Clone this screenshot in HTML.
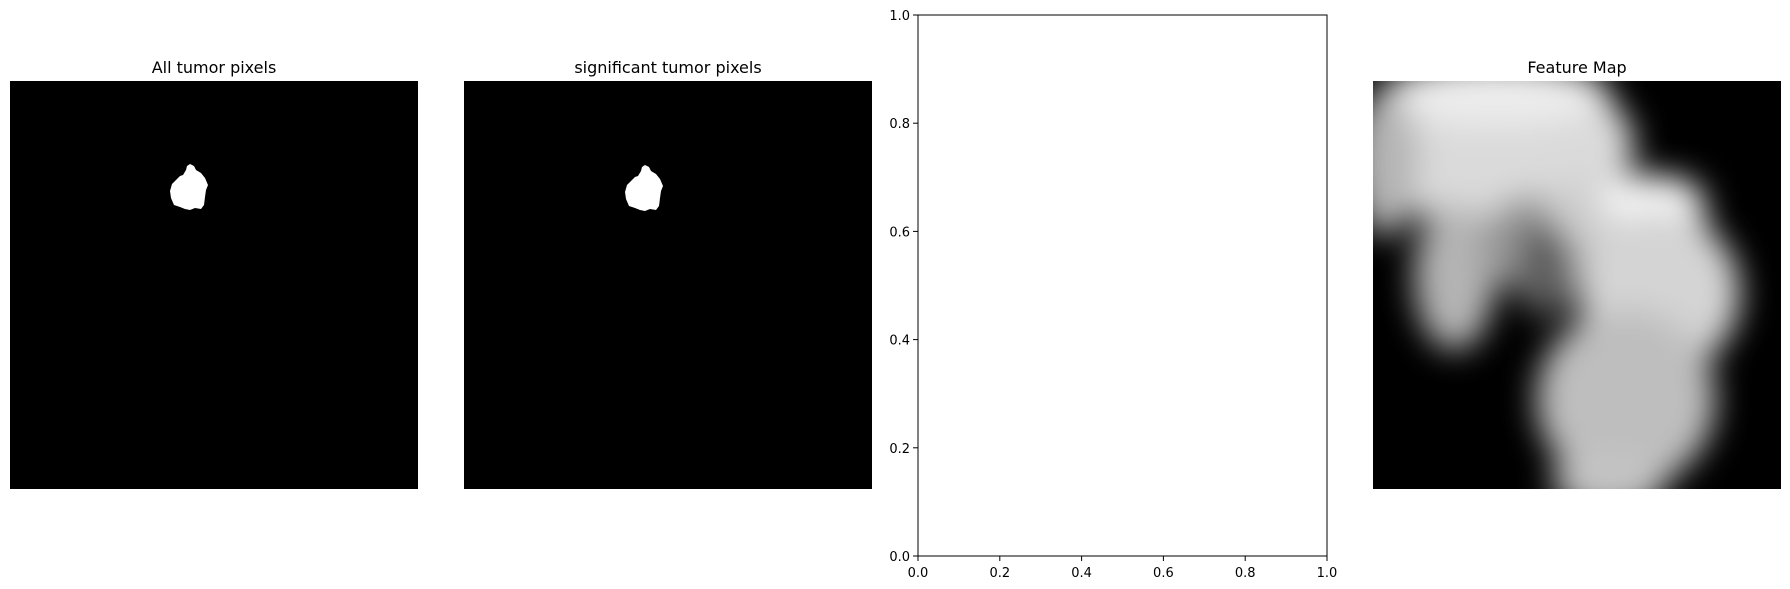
<!DOCTYPE html>
<html><head><meta charset="utf-8"><style>
body{margin:0;background:#fff;width:1790px;height:589px;overflow:hidden;font-family:"DejaVu Sans","Liberation Sans",sans-serif}
svg{position:absolute;left:0;top:0}
</style></head><body>
<svg width="1790" height="589">
<defs>
<filter id="bl" x="-50%" y="-50%" width="200%" height="200%"><feGaussianBlur stdDeviation="16"/></filter>
<clipPath id="c4"><rect x="1373" y="81" width="408" height="408"/></clipPath>
</defs>
<text x="214" y="73" font-size="16" text-anchor="middle">All tumor pixels</text>
<rect x="10" y="81" width="408" height="408" fill="#000"/>
<g id="blob1"></g>
<text x="668" y="73" font-size="16" text-anchor="middle">significant tumor pixels</text>
<rect x="464" y="81" width="408" height="408" fill="#000"/>
<g id="blob2"></g>
<g id="ax"></g>
<text x="1577" y="73" font-size="16" text-anchor="middle">Feature Map</text>
<g clip-path="url(#c4)">
<rect x="1373" y="81" width="408" height="408" fill="#000"/>
<g id="fm" filter="url(#bl)"></g>
</g>
</svg>
<script>
const ticks=[0,0.2,0.4,0.6,0.8,1.0];
const tickLabels=["0.0","0.2","0.4","0.6","0.8","1.0"];
const blobPts=[[190,164],[194,166],[196,170],[201,173],[205,178],[208,185],[206,190],[205,197],[204,205],[201,209],[195,208],[190,210],[185,209],[180,207],[174,205],[171,198],[170,191],[172,184],[176,180],[180,176],[183,175],[186,170],[187,166]];
// feature-map blobs: [cx, cy, rx, ry, gray] in fractions of panel
const fmBlobs=[[0.3,0.16,0.34,0.2,218],[0.3,0.03,0.28,0.08,236],[0.03,0.2,0.08,0.18,180],[0.2,0.48,0.1,0.18,180],[0.4,0.4,0.14,0.12,150],[0.62,0.33,0.2,0.1,205],[0.68,0.29,0.13,0.06,245],[0.7,0.52,0.2,0.2,212],[0.62,0.78,0.22,0.22,190],[0.58,0.98,0.14,0.08,195],[0.42,0.46,0.07,0.12,96]];
const NS="http://www.w3.org/2000/svg";
function mk(t,a,p){const e=document.createElementNS(NS,t);for(const k in a)e.setAttribute(k,a[k]);p.appendChild(e);return e;}
const pts1=blobPts.map(p=>p.join(',')).join(' ');
const b1=mk('polygon',{points:pts1,fill:'#fff'},document.getElementById('blob1'));


const pts2=blobPts.map(p=>[p[0]+455,p[1]+1].join(',')).join(' ');
const b2=mk('polygon',{points:pts2,fill:'#fff'},document.getElementById('blob2'));


const ax=document.getElementById('ax');
const L=918,R=1327,T=15,B=556;
const sx=v=>L+(R-L)*v, sy=v=>B-(B-T)*v;
mk('rect',{x:L,y:T,width:R-L,height:B-T,fill:'#fff',stroke:'#000','stroke-width':1},ax);
ticks.forEach((v,i)=>{
 mk('line',{x1:sx(v),x2:sx(v),y1:B,y2:B+5,stroke:'#000'},ax);
 const tx=mk('text',{x:sx(v),y:B+21,'font-size':13,'text-anchor':'middle'},ax);tx.textContent=tickLabels[i];
 
 
 mk('line',{x1:L-5,x2:L,y1:sy(v),y2:sy(v),stroke:'#000'},ax);
 const ty=mk('text',{x:L-8,y:sy(v)+5,'font-size':13,'text-anchor':'end'},ax);ty.textContent=tickLabels[i];
 
 
});
const fm=document.getElementById('fm');
fmBlobs.forEach(b=>{
 const e=mk('ellipse',{cx:1373+b[0]*408,cy:81+b[1]*408,rx:b[2]*408,ry:b[3]*408,fill:`rgb(${b[4]},${b[4]},${b[4]})`},fm);
 
 
});
</script>
</body></html>
